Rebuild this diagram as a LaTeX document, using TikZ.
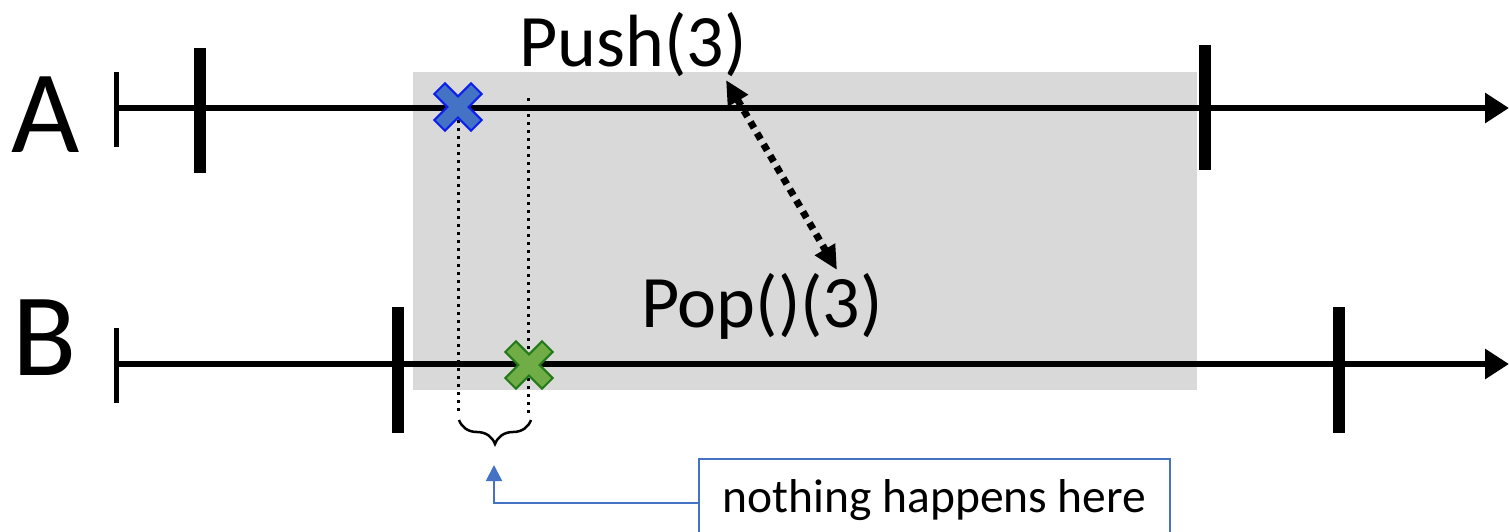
\documentclass[tikz,border=0pt]{standalone}
\usepackage{fontspec}
\setmainfont{Carlito}
\usetikzlibrary{arrows.meta,decorations.pathreplacing}
\definecolor{boxgray}{HTML}{D9D9D9}
\definecolor{xblue}{HTML}{4472C4}
\definecolor{xblueedge}{HTML}{0A1EF0}
\definecolor{xgreen}{HTML}{70AD47}
\definecolor{xgreenedge}{HTML}{217A17}
\definecolor{noteblue}{HTML}{4472C4}
\tikzset{
  timeline/.style={line width=6pt,-{Triangle[length=24pt,width=29pt]}},
  thintick/.style={line width=5pt},
  thicktick/.style={line width=12pt},
  vdots/.style={line width=3pt,dash pattern=on 3pt off 5pt},
  linkarrow/.style={line width=7pt,dash pattern=on 7pt off 6pt,
    {Triangle[length=24pt,width=22pt]}-{Triangle[length=24pt,width=22pt]}},
  bigletter/.style={font=\fontsize{118}{120}\selectfont,inner sep=0pt,anchor=base},
  oplabel/.style={font=\fontsize{74}{76}\selectfont,inner sep=0pt,anchor=base},
  notebox/.style={draw=noteblue,line width=1.6pt,font=\fontsize{47.5}{49}\selectfont,
    minimum width=471pt,minimum height=82pt,inner sep=0pt},
  notearrow/.style={draw=noteblue,line width=2pt,-{Triangle[length=16pt,width=16pt]}},
  crossmark/.style={line width=2pt,line join=miter},
}
\newcommand{\crossshape}[3]{%
  \begin{scope}[shift={#1},rotate=45]
    \filldraw[crossmark,fill=#2,draw=#3]
      (7.5,7.5)--(26,7.5)--(26,-7.5)--(7.5,-7.5)--(7.5,-26)--(-7.5,-26)--(-7.5,-7.5)--(-26,-7.5)
      --(-26,7.5)--(-7.5,7.5)--(-7.5,26)--(7.5,26)--cycle;
  \end{scope}}
\begin{document}
\begin{tikzpicture}[x=1pt,y=-1pt]
\useasboundingbox (0,0) rectangle (1509,531);
\clip (0,0) rectangle (1509,531);
% shaded region
\fill[boxgray] (413,72) rectangle (1197,390);
% coordinates
\coordinate (A0) at (116,108);
\coordinate (A1) at (1509,108);
\coordinate (B0) at (116,364);
\coordinate (B1) at (1509,364);
% timelines
\draw[timeline] (A0) -- (A1);
\draw[timeline] (B0) -- (B1);
% left thin ticks
\draw[thintick] (116,72) -- (116,147);
\draw[thintick] (116,328) -- (116,403);
% thick ticks
\draw[thicktick] (200,48) -- (200,173);
\draw[thicktick] (1205,45) -- (1205,170);
\draw[thicktick] (397.5,307) -- (397.5,433);
\draw[thicktick] (1339,307) -- (1339,433);
% dotted verticals
\coordinate (d1t) at (458,112);
\coordinate (d1b) at (458,415);
\coordinate (d2t) at (528,98);
\coordinate (d2b) at (528,415);
\draw[vdots] (d1t) -- (d1b);
\draw[vdots] (d2t) -- (d2b);
% crosses
\crossshape{(458,107)}{xblue}{xblueedge}
\crossshape{(529,365)}{xgreen}{xgreenedge}
% labels
\node[bigletter] (labA) at (46,152) {A};
\node[bigletter] (labB) at (45,375) {B};
\node[oplabel] (push) at (633,66) {Push(3)};
\node[oplabel] (pop) at (762,327) {Pop()(3)};
% linearization link
\coordinate (lk1) at (726,80);
\coordinate (lk2) at (837,270);
\draw[linkarrow] (lk1) -- (lk2);
% brace
\coordinate (brL) at (459,420);
\coordinate (brR) at (531,420);
\draw[line width=2.5pt,decorate,decoration={brace,mirror,amplitude=24pt}] (brL) -- (brR);
% note
\node[notebox] (note) at (934.5,500) {nothing happens here};
\coordinate (brtip) at (494,465);
\draw[notearrow] ([yshift=-3pt]note.west) -| (brtip);
\end{tikzpicture}
\end{document}
